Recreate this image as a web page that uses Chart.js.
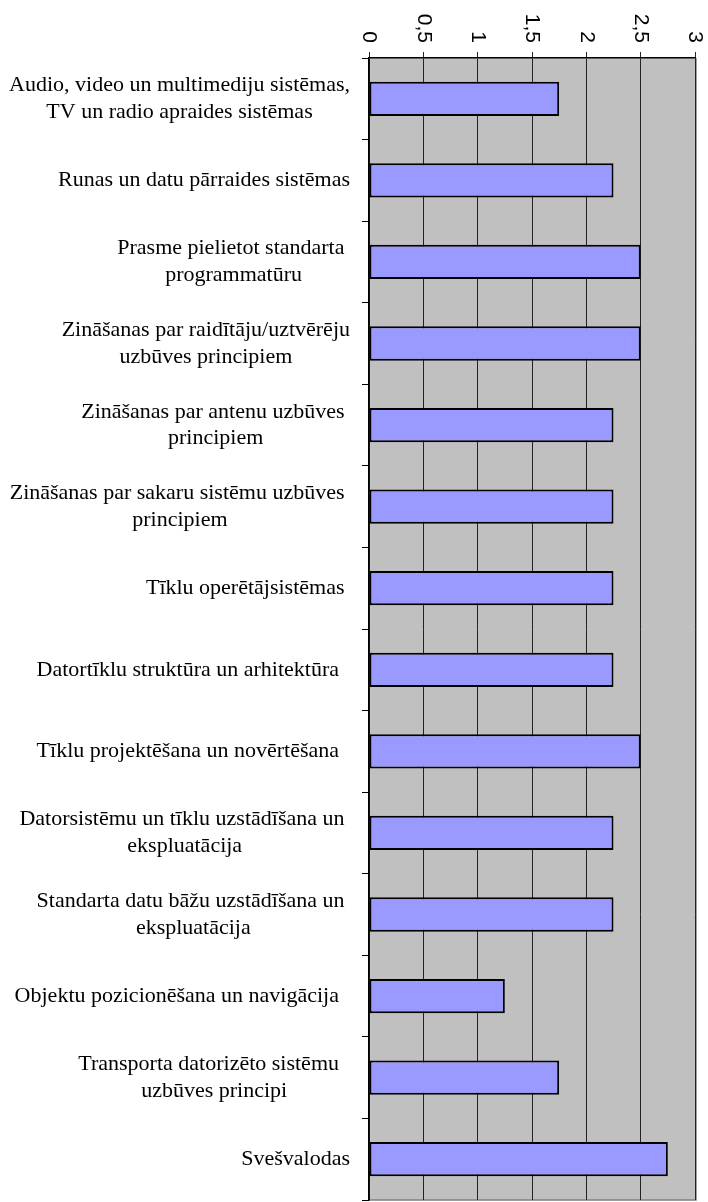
<!DOCTYPE html>
<html lang="lv">
<head>
    <meta charset="UTF-8">
    <title>Prasmes</title>
    <script src="https://cdn.jsdelivr.net/npm/chart.js"></script>
    <style>
        html, body { margin: 0; padding: 0; background: #fff; }
        #wrap { width: 708px; height: 1202px; }
    </style>
</head>
<body>
    <div id="wrap"><canvas id="skills"></canvas></div>

    <script>
        // category labels, one array per label (lines)
        const categories = [
            ['Audio, video un multimediju sistēmas,', 'TV un radio apraides sistēmas'],
            ['Runas un datu pārraides sistēmas'],
            ['Prasme pielietot standarta ', 'programmatūru'],
            ['Zināšanas par raidītāju/uztvērēju', 'uzbūves principiem'],
            ['Zināšanas par antenu uzbūves ', 'principiem'],
            ['Zināšanas par sakaru sistēmu uzbūves ', 'principiem'],
            ['Tīklu operētājsistēmas '],
            ['Datortīklu struktūra un arhitektūra  '],
            ['Tīklu projektēšana un novērtēšana  '],
            ['Datorsistēmu un tīklu uzstādīšana un ', 'ekspluatācija'],
            ['Standarta datu bāžu uzstādīšana un ', 'ekspluatācija'],
            ['Objektu pozicionēšana un navigācija  '],
            ['Transporta datorizēto sistēmu  ', 'uzbūves principi'],
            ['Svešvalodas']
        ];
        const values = [1.75, 2.25, 2.5, 2.5, 2.25, 2.25, 2.25, 2.25, 2.5, 2.25, 2.25, 1.25, 1.75, 2.75];
        const xTicks = [0, 0.5, 1, 1.5, 2, 2.5, 3];

        const fmt = v => String(v).replace('.', ',');

        // gray plot background + gray frame on right/bottom
        const plotBg = {
            id: 'plotBg',
            beforeDraw(chart) {
                const { ctx, chartArea: a } = chart;
                ctx.save();
                ctx.fillStyle = '#C0C0C0';
                ctx.fillRect(a.left, a.top, a.right - a.left, a.bottom - a.top);
                ctx.strokeStyle = '#808080';
                ctx.lineWidth = 1.5;
                ctx.beginPath();
                ctx.moveTo(a.left, a.bottom);
                ctx.lineTo(a.right + 1, a.bottom);
                ctx.lineTo(a.right + 1, a.top);
                ctx.stroke();
                ctx.restore();
            }
        };

        // rotated value labels on top + centred multi-line category labels
        const labelsPlugin = {
            id: 'labelsPlugin',
            afterDraw(chart) {
                const { ctx } = chart;
                const x = chart.scales.x;
                const y = chart.scales.y;
                ctx.save();
                ctx.fillStyle = '#000';

                ctx.font = '21px "Liberation Sans", Arial, sans-serif';
                ctx.textAlign = 'right';
                ctx.textBaseline = 'middle';
                xTicks.forEach(v => {
                    ctx.save();
                    ctx.translate(x.getPixelForValue(v), 43);
                    ctx.rotate(Math.PI / 2);
                    ctx.fillText(fmt(v), 0, 0);
                    ctx.restore();
                });

                ctx.font = '22px "Liberation Serif", "Times New Roman", serif';
                ctx.textAlign = 'center';
                const lineH = 26.5;
                const rightEdge = 350;
                categories.forEach((lines, i) => {
                    const cy = y.getPixelForValue(i);
                    const w = Math.max(...lines.map(l => ctx.measureText(l).width));
                    const cx = rightEdge - w / 2;
                    lines.forEach((l, j) => {
                        const ly = cy + (j - (lines.length - 1) / 2) * lineH;
                        ctx.fillText(l, cx, ly);
                    });
                });
                ctx.restore();
            }
        };

        new Chart(document.getElementById('skills'), {
            type: 'bar',
            data: {
                labels: categories,
                datasets: [{
                    data: values,
                    backgroundColor: '#9999FF',
                    borderColor: '#000',
                    borderWidth: 2,
                    borderSkipped: false,
                    barPercentage: 0.42,
                    categoryPercentage: 1
                }]
            },
            options: {
                indexAxis: 'y',
                responsive: true,
                maintainAspectRatio: false,
                animation: false,
                layout: { padding: { left: 0, right: 13, top: 0, bottom: 2 } },
                plugins: { legend: { display: false }, tooltip: { enabled: false } },
                scales: {
                    x: {
                        position: 'top',
                        min: 0,
                        max: 3,
                        afterBuildTicks(scale) {
                            scale.ticks = xTicks.map(v => ({ value: v }));
                        },
                        afterFit(scale) { scale.height = 58; },
                        ticks: { display: false },
                        grid: {
                            color: '#222',
                            lineWidth: 1,
                            drawTicks: true,
                            tickLength: 6
                        },
                        border: { display: true, color: '#000', width: 1.5 }
                    },
                    y: {
                        afterFit(scale) { scale.width = 369; },
                        ticks: { display: false },
                        grid: {
                            offset: true,
                            drawOnChartArea: false,
                            drawTicks: true,
                            tickLength: 7,
                            color: '#000'
                        },
                        border: { display: true, color: '#000', width: 1.5 }
                    }
                }
            },
            plugins: [plotBg, labelsPlugin]
        });
    </script>
</body>
</html>
